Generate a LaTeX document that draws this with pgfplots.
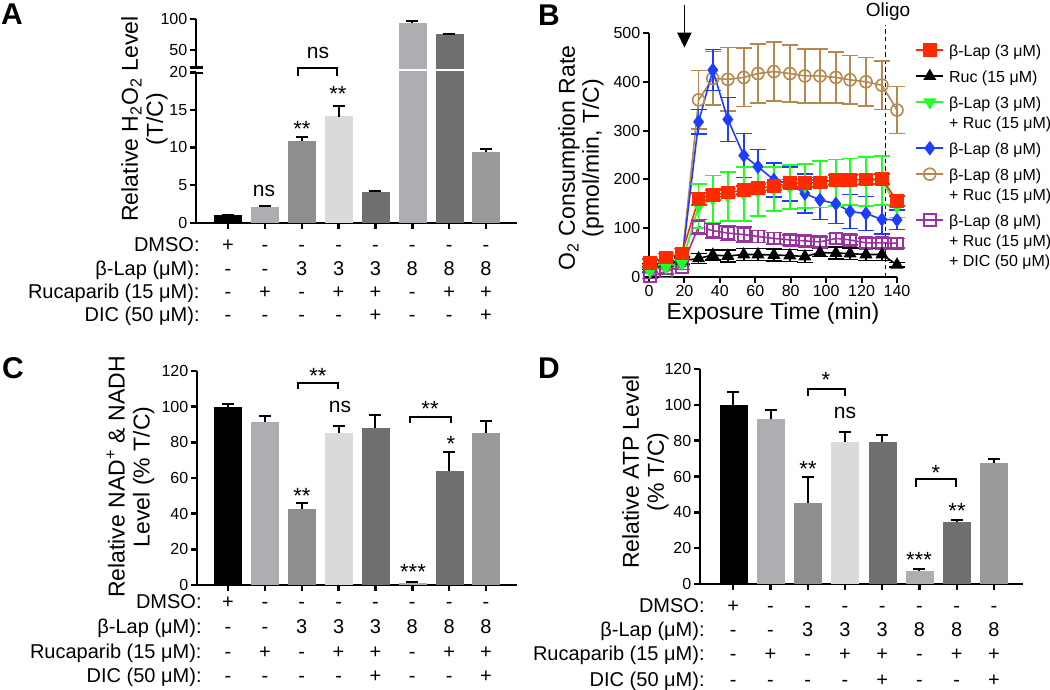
\documentclass[border=0pt]{standalone}
\usepackage{fontspec}
\setmainfont{Liberation Sans}
\usepackage{pgfplots}
\usepackage{pgfplotstable}
\pgfplotsset{compat=1.18}
\usetikzlibrary{arrows.meta}

\definecolor{cL1}{HTML}{ADADB2}
\definecolor{cM}{HTML}{8E8E8E}
\definecolor{cL2}{HTML}{DADADA}
\definecolor{cD}{HTML}{707070}
\definecolor{cE}{HTML}{9A9A9A}
\definecolor{cRed}{HTML}{FF2A00}
\definecolor{cGreen}{HTML}{22FF22}
\definecolor{cBlue}{HTML}{1F3DFF}
\definecolor{cBrown}{HTML}{B5884E}
\definecolor{cPurple}{HTML}{9933A0}

\pgfplotstableread{
t     red  ered blk eblk grn egrn blu eblu brn ebrn pur epur
0.5   29   8    22  6    12  5    15  5    20  5    2   5
9.5   40   8    28  6    20  5    22  5    25  5    11  5
18.5  48   10   33  8    28  6    28  6    32  6    21  6
28    160  12   38  10   145 45   318 25   363 60   103 15
36    168  10   45  10   160 48   424 42   407 55   95  15
44.5  173  8    43  12   165 50   323 45   405 65   90  15
53.5  178  8    46  12   170 55   249 45   409 60   87  15
61.5  182  8    46  12   175 50   226 35   417 60   83  12
70.5  186  8    45  12   180 45   199 35   421 60   79  12
79.5  192  8    44  12   184 45   191 35   417 58   76  10
88    192  8    42  12   186 45   171 40   412 55   74  10
96.5  194  10   50  8    190 48   158 40   412 55   72  10
105.5 199  10   49  12   193 48   150 40   409 52   79  10
113.5 199  10   48  12   195 48   134 35   404 50   76  10
122.5 200  10   46  12   196 50   130 35   400 50   70  10
131.5 201  10   46  12   198 50   118 30   393 50   70  10
140   156  10   25  5    144 22   117 20   342 48   69  10
}\Bdata

\pgfplotsset{
  common/.style={
    scale only axis, anchor=south west,
    axis lines*=left,
    axis line style={line width=1.2pt, black},
    tick align=outside, major tick length=3pt,
    tick style={line width=1.2pt, black},
    ticklabel style={font=\fontsize{8}{9}\selectfont, inner sep=1.2pt},
    /pgf/number format/assume math mode=true,
  },
  barax/.style={common, xtick={0,...,7}, xticklabels={}},
  Bl/.style={color=#1, line width=0.8pt, mark size=3pt, forget plot,
    error bars/y dir=both, error bars/y explicit,
    error bars/error bar style={line width=0.8pt, draw=#1},
    error bars/error mark options={rotate=90, mark size=4pt, line width=0.8pt, draw=#1}},
}

\newcommand{\mybar}[4]{%
  \addplot[ybar, bar width=13.5pt, bar shift=0pt, fill=#1, draw=#1, line width=0.1pt,
    error bars/y dir=plus, error bars/y explicit,
    error bars/error bar style={draw=black, line width=1pt},
    error bars/error mark options={rotate=90, draw=black, line width=1pt, mark size=3pt}]
    coordinates {(#2,#3) +- (0,#4)};}

\newcommand{\condtable}[7]{%
  \begin{scope}[every node/.style={font=\fontsize{10}{12}\selectfont, inner sep=0pt}]
  \node[anchor=base east] at (#3,#4) {DMSO:};
  \node[anchor=base east] at (#3,#5) {β-Lap (μM):};
  \node[anchor=base east] at (#3,#6) {Rucaparib (15 μM):};
  \node[anchor=base east] at (#3,#7) {DIC (50 μM):};
  \foreach \v [count=\i from 0] in {+,-,-,-,-,-,-,-} \node[anchor=base] at ({#1+\i*#2},#4) {\v};
  \foreach \v [count=\i from 0] in {-,-,3,3,3,8,8,8} \node[anchor=base] at ({#1+\i*#2},#5) {\v};
  \foreach \v [count=\i from 0] in {-,+,-,+,+,-,+,+} \node[anchor=base] at ({#1+\i*#2},#6) {\v};
  \foreach \v [count=\i from 0] in {-,-,-,-,+,-,-,+} \node[anchor=base] at ({#1+\i*#2},#7) {\v};
  \end{scope}}

\begin{document}
\begin{tikzpicture}
\useasboundingbox (0,0) rectangle (525pt,345pt);

% ---------------- Panel A (lower segment)
\begin{axis}[barax, at={(98pt,233.5pt)}, width=160.5pt, height=75.5pt,
  xmin=-0.868, xmax=7.84, ymin=0, ymax=20, ytick={0,5,10,15,20}]
\mybar{black}{0}{1.05}{0.05}
\mybar{cL1}{1}{2.1}{0.15}
\mybar{cM}{2}{10.8}{0.6}
\mybar{cL2}{3}{14.1}{1.4}
\mybar{cD}{4}{4.05}{0.15}
\mybar{cL1}{5}{94}{2}
\mybar{cD}{6}{75.5}{1}
\mybar{cE}{7}{9.45}{0.3}
\end{axis}
% ---------------- Panel A (upper segment)
\begin{axis}[common, at={(98pt,310.5pt)}, width=160.5pt, height=25pt,
  xmin=-0.868, xmax=7.84, ymin=20, ymax=100, ytick={50,100},
  axis x line=none, axis y line*=left]
\mybar{cL1}{5}{94}{2}
\mybar{cD}{6}{75.5}{1}
\end{axis}

% ---------------- Panel B
\begin{axis}[common, at={(324.5pt,206.5pt)}, width=124pt, height=122pt,
  xmin=0, xmax=140, ymin=0, ymax=500, xtick={0,20,...,140}, ytick={0,100,...,500},
  clip=false, axis line style={line width=1pt}, tick style={line width=1pt},
  legend style={draw=none, fill=none, at={(1.073,0.964)}, anchor=north west,
    inner sep=0pt, row sep=3pt, cells={anchor=base west},
    nodes={inner sep=0pt, text depth=},
    font=\fontsize{8}{10}\selectfont,
    /tikz/every odd column/.append style={column sep=2.5pt}},
  legend image code/.code={\draw[mark repeat=2, mark phase=2, #1] plot coordinates {(0pt,3pt) (6.75pt,3pt) (13.5pt,3pt)};}]
\draw[line width=0.8pt, dash pattern=on 2.2pt off 1.6pt] (axis cs:133.5,0) -- (axis cs:133.5,516);
\draw[line width=0.9pt, -{Triangle[width=7pt, length=7.5pt]}] (axis cs:20,558) -- (axis cs:20,470);
\addplot[Bl=cBrown, mark=o, mark options={solid, line width=0.8pt}] table[x=t, y=brn, y error=ebrn] {\Bdata};
\addplot[Bl=cPurple, mark=square, mark options={solid, line width=0.8pt}] table[x=t, y=pur, y error=epur] {\Bdata};
\addplot[Bl=black, mark=triangle*, mark options={solid, fill=black}] table[x=t, y=blk, y error=eblk] {\Bdata};
\addplot[Bl=cBlue, mark=diamond*, mark options={solid, fill=cBlue}] table[x=t, y=blu, y error=eblu] {\Bdata};
\addplot[Bl=cGreen, mark=triangle*, mark options={solid, fill=cGreen, rotate=180}] table[x=t, y=grn, y error=egrn] {\Bdata};
\addplot[Bl=cRed, mark=square*, mark options={solid, fill=cRed}] table[x=t, y=red, y error=ered] {\Bdata};
\addlegendimage{cRed, line width=0.8pt, mark=square*, mark size=3pt, mark options={fill=cRed}}
\addlegendentry{\begin{tabular}[t]{@{}l@{}}β-Lap (3 μM)\end{tabular}}
\addlegendimage{black, line width=0.8pt, mark=triangle*, mark size=3pt, mark options={fill=black}}
\addlegendentry{\begin{tabular}[t]{@{}l@{}}Ruc (15 μM)\end{tabular}}
\addlegendimage{cGreen, line width=0.8pt, mark=triangle*, mark size=3pt, mark options={fill=cGreen, rotate=180}}
\addlegendentry{\begin{tabular}[t]{@{}l@{}}β-Lap (3 μM)\\+ Ruc (15 μM)\end{tabular}}
\addlegendimage{cBlue, line width=0.8pt, mark=diamond*, mark size=3pt, mark options={fill=cBlue}}
\addlegendentry{\begin{tabular}[t]{@{}l@{}}β-Lap (8 μM)\end{tabular}}
\addlegendimage{cBrown, line width=0.8pt, mark=o, mark size=3pt}
\addlegendentry{\begin{tabular}[t]{@{}l@{}}β-Lap (8 μM)\\+ Ruc (15 μM)\end{tabular}}
\addlegendimage{cPurple, line width=0.8pt, mark=square, mark size=3pt}
\addlegendentry{\begin{tabular}[t]{@{}l@{}}β-Lap (8 μM)\\+ Ruc (15 μM)\\+ DIC (50 μM)\end{tabular}}
\end{axis}

% ---------------- Panel C
\begin{axis}[barax, at={(98.5pt,52.5pt)}, width=160pt, height=107pt,
  xmin=-0.841, xmax=7.84, ymin=0, ymax=120, ytick={0,20,...,120}]
\mybar{black}{0}{100}{1.5}
\mybar{cL1}{1}{91.5}{3}
\mybar{cM}{2}{42.4}{3.4}
\mybar{cL2}{3}{85.4}{4}
\mybar{cD}{4}{88.2}{7}
\mybar{cL1}{5}{1}{0.5}
\mybar{cD}{6}{64.1}{10.3}
\mybar{cE}{7}{85}{7}
\end{axis}

% ---------------- Panel D
\begin{axis}[barax, at={(350pt,53pt)}, width=161.5pt, height=107.5pt,
  xmin=-0.894, xmax=7.78, ymin=0, ymax=120, ytick={0,20,...,120}]
\mybar{black}{0}{100}{7}
\mybar{cL1}{1}{92}{5}
\mybar{cM}{2}{45.4}{14.2}
\mybar{cL2}{3}{79.2}{5.9}
\mybar{cD}{4}{79.2}{3.7}
\mybar{cL1}{5}{7.4}{0.8}
\mybar{cD}{6}{34.5}{1.3}
\mybar{cE}{7}{67.4}{2.3}
\end{axis}

% ---------------- texts (pixel coordinates, y downwards)
\begin{scope}[x=0.5pt, y=-0.5pt, shift={(0pt,345pt)}]
\tikzset{lbl/.style={font=\bfseries\fontsize{15}{16}\selectfont, inner sep=0pt},
  ax/.style={rotate=90, align=center, font=\fontsize{11.5}{12.5}\selectfont, inner sep=0pt},
  st/.style={font=\fontsize{11}{12}\selectfont, inner sep=0pt},
  ns/.style={font=\fontsize{10.5}{12}\selectfont, inner sep=0pt},
  br/.style={line width=1pt}}
\node[lbl] at (12,14) {A};
\node[lbl] at (549,15) {B};
\node[lbl] at (13,368) {C};
\node[lbl] at (549,368) {D};

% A
\node[ax] at (144.5,119) {Relative H\textsubscript{2}O\textsubscript{2} Level\\(T/C)};
\draw[line width=1.2pt] (190,67.5) -- (203,67.5);
\draw[line width=1.2pt] (190,73) -- (203,73);
\node[ns] at (264,191) {ns};
\node[st] at (302,129) {**};
\node[st] at (338,94) {**};
\draw[br] (298,76) -- (298,68) -- (337,68) -- (337,76);
\node[ns] at (318,53) {ns};
\condtable{228}{36.86}{200}{252}{276}{299}{322}

% B
\node[ax, font=\fontsize{11.5}{12}\selectfont] at (581,158) {O\textsubscript{2} Consumption Rate\\(pmol/min, T/C)};
\node[font=\fontsize{11.5}{12}\selectfont, inner sep=0pt] at (773,314) {Exposure Time (min)};
\node[font=\fontsize{9.5}{11}\selectfont, inner sep=0pt] at (888,12) {Oligo};

% C
\node[ax] at (130.5,477) {Relative NAD\textsuperscript{+} \& NADH\\Level (\% T/C)};
\draw[br] (298,389) -- (298,383) -- (338,383) -- (338,389);
\node[st] at (318,376) {**};
\node[ns] at (340,407) {ns};
\draw[br] (410,423) -- (410,417) -- (451,417) -- (451,423);
\node[st] at (430,409) {**};
\node[st] at (451,444) {*};
\node[st] at (302,496) {**};
\node[st] at (413,572) {***};
\condtable{228}{36.86}{202}{609}{634}{659}{683}

% D
\node[ax] at (645.5,472) {Relative ATP Level\\(\% T/C)};
\draw[br] (808,396) -- (808,389) -- (845,389) -- (845,396);
\node[st] at (826,380) {*};
\node[ns] at (845,413) {ns};
\draw[br] (916,487) -- (916,479) -- (956,479) -- (956,487);
\node[st] at (936,473) {*};
\node[st] at (808,469) {**};
\node[st] at (957,511) {**};
\node[st] at (919,560) {***};
\condtable{733.3}{37.23}{705}{613}{637}{661}{687}
\end{scope}
\end{tikzpicture}
\end{document}
